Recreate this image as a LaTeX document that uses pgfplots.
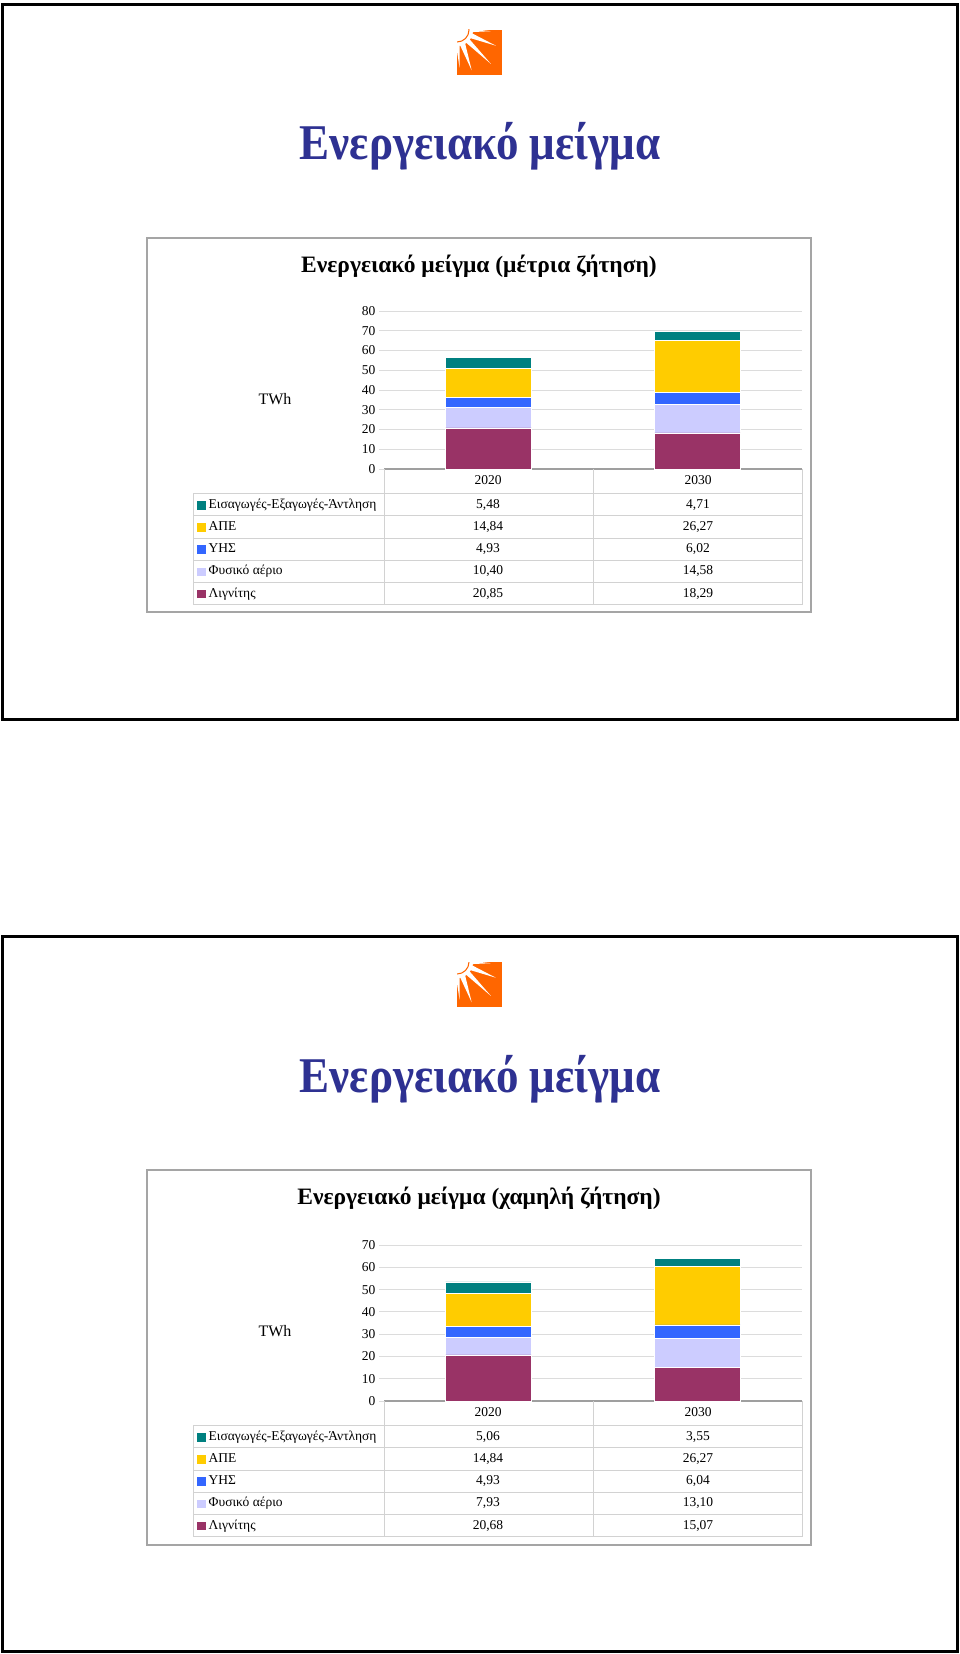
\documentclass[border=0pt]{standalone}
\usepackage{fontspec}
\setmainfont{Liberation Serif}
\usepackage{graphicx}
\usepackage{pgfplots}
\pgfplotsset{compat=1.18}
\definecolor{lig}{RGB}{153,51,102}
\definecolor{gas}{RGB}{204,204,255}
\definecolor{hyd}{RGB}{51,102,255}
\definecolor{res}{RGB}{255,204,0}
\definecolor{imp}{RGB}{0,128,128}
\definecolor{ttl}{RGB}{46,49,146}
\definecolor{logoc}{RGB}{255,102,0}
\definecolor{gridc}{RGB}{220,220,220}
\definecolor{tblc}{RGB}{210,210,210}
\definecolor{boxc}{RGB}{165,165,165}
\newcommand\tblfont{\fontsize{13.5}{15}\selectfont}
\newcommand\slidetitle{\scalebox{0.9}[1]{\bfseries\fontsize{50}{54}\selectfont Ενεργειακό μείγμα}}
\tikzset{tbl/.style={font=\tblfont, inner sep=0pt, text height=9.5pt, text depth=3pt}}
\pgfplotsset{mixchart/.style={
  ybar stacked, bar width=0.41, scale only axis, width=418pt,
  xmin=-0.5, xmax=1.5, ymin=0, xtick=\empty,
  ytick distance=10, ymajorgrids, grid style={gridc, line width=0.8pt},
  axis x line*=bottom, axis y line*=left,
  y axis line style={draw=none}, x axis line style={draw=gray!75, line width=1.2pt},
  tick align=outside, major tick length=5pt, ytick style={draw=gridc, line width=0.8pt},
  /pgf/number format/assume math mode=true,
  yticklabel style={font=\tblfont},
  every axis plot/.append style={draw=white, line width=0.4pt},
  anchor=south west, clip=false}}
\newcommand\tablegrid[1]{%
  \draw[tblc, line width=0.8pt] (384,#1) -- (384,{#1+135.5}) (593,#1) -- (593,{#1+135.5})
     (802,#1) -- (802,{#1+135.5}) (193,{#1+24.5}) -- (193,{#1+135.5});
  \foreach \k in {0,...,5} {\draw[tblc, line width=0.8pt] (193,{#1+24.5+22.2*\k}) -- (802,{#1+24.5+22.2*\k});}
  \node[tbl] at (488,{#1+12.5}) {2020};
  \node[tbl] at (698,{#1+12.5}) {2030};}
\newcommand\trow[5]{%
  \fill[#2] (197,{#1-4}) rectangle ++(8.5,8.5);
  \node[tbl, anchor=west] at (208.5,#1) {#3};
  \node[tbl] at (488,#1) {#4};
  \node[tbl] at (698,#1) {#5};}
\newcommand\logo[1]{%
  \begin{scope}[shift={(457,#1)}]
    \fill[logoc] (0,0) rectangle (45,45);
    \begin{scope}
      \clip (0,0) rectangle (45,45);
      \fill[white] (0,0) circle[radius=16];
      \fill[white] (-4:15) -- (2:34) -- (8:15) -- cycle;
      \fill[white] (12:15) -- (22:42) -- (32:15) -- cycle;
      \fill[white] (36:15) -- (45:48) -- (55:15) -- cycle;
      \fill[white] (58:15) -- (70:43) -- (79:15) -- cycle;
      \fill[white] (80:15) -- (86:38) -- (94:15) -- cycle;
      \draw[logoc, line width=1pt] (0,0) circle[radius=12];
    \end{scope}
  \end{scope}}
\begin{document}
\begin{tikzpicture}[x=1pt,y=-1pt]
\path[use as bounding box, fill=white] (0,0) rectangle (960,1654);
% ---------- slide 1 ----------
\draw[line width=3pt] (2.5,4.5) rectangle (957.5,719);
\logo{30}
\node[text=ttl] at (480,146) {\slidetitle};
\draw[boxc, line width=1.5pt] (147,238) rectangle (811,612);
\node[font=\bfseries\fontsize{23.5}{27}\selectfont] at (479,266) {Ενεργειακό μείγμα (μέτρια ζήτηση)};
\node[font=\fontsize{16}{18}\selectfont] at (275,399) {TWh};
\begin{axis}[mixchart, at={(384pt,-469pt)}, height=158pt, ymax=80]
\addplot[fill=lig] coordinates {(0,20.85) (1,18.29)};
\addplot[fill=gas] coordinates {(0,10.40) (1,14.58)};
\addplot[fill=hyd] coordinates {(0,4.93) (1,6.02)};
\addplot[fill=res] coordinates {(0,14.84) (1,26.27)};
\addplot[fill=imp] coordinates {(0,5.48) (1,4.71)};
\end{axis}
\tablegrid{469}
\trow{505}{imp}{Εισαγωγές-Εξαγωγές-Άντληση}{5,48}{4,71}
\trow{527.2}{res}{ΑΠΕ}{14,84}{26,27}
\trow{549.4}{hyd}{ΥΗΣ}{4,93}{6,02}
\trow{571.6}{gas}{Φυσικό αέριο}{10,40}{14,58}
\trow{593.8}{lig}{Λιγνίτης}{20,85}{18,29}
% ---------- slide 2 ----------
\draw[line width=3pt] (2.5,936.5) rectangle (957.5,1651);
\logo{962}
\node[text=ttl] at (480,1079) {\slidetitle};
\draw[boxc, line width=1.5pt] (147,1170) rectangle (811,1545);
\node[font=\bfseries\fontsize{23.5}{27}\selectfont] at (479,1198) {Ενεργειακό μείγμα (χαμηλή ζήτηση)};
\node[font=\fontsize{16}{18}\selectfont] at (275,1331) {TWh};
\begin{axis}[mixchart, at={(384pt,-1401pt)}, height=156pt, ymax=70]
\addplot[fill=lig] coordinates {(0,20.68) (1,15.07)};
\addplot[fill=gas] coordinates {(0,7.93) (1,13.10)};
\addplot[fill=hyd] coordinates {(0,4.93) (1,6.04)};
\addplot[fill=res] coordinates {(0,14.84) (1,26.27)};
\addplot[fill=imp] coordinates {(0,5.06) (1,3.55)};
\end{axis}
\tablegrid{1401}
\trow{1437}{imp}{Εισαγωγές-Εξαγωγές-Άντληση}{5,06}{3,55}
\trow{1459.2}{res}{ΑΠΕ}{14,84}{26,27}
\trow{1481.4}{hyd}{ΥΗΣ}{4,93}{6,04}
\trow{1503.6}{gas}{Φυσικό αέριο}{7,93}{13,10}
\trow{1525.8}{lig}{Λιγνίτης}{20,68}{15,07}
\end{tikzpicture}
\end{document}
